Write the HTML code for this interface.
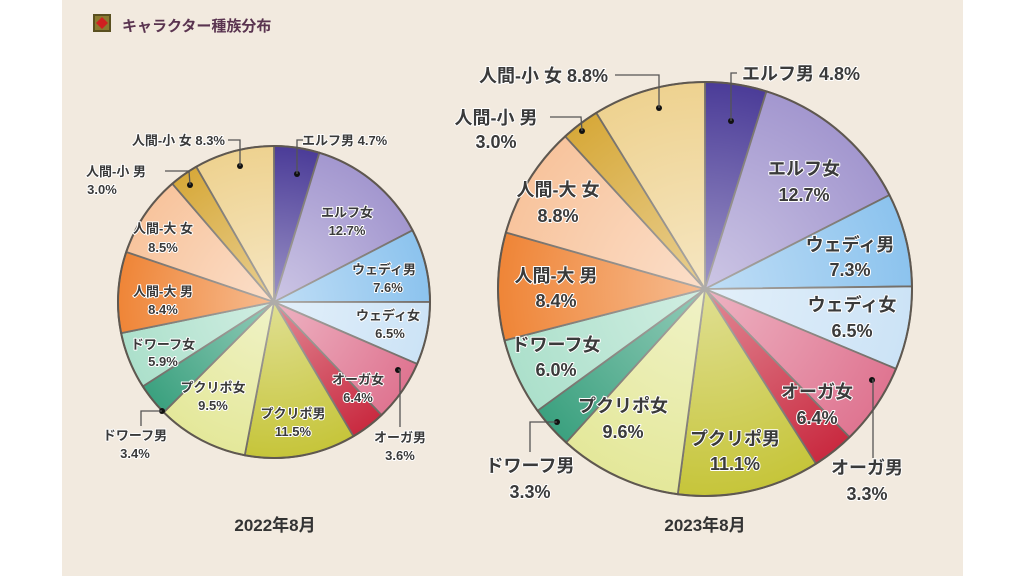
<!DOCTYPE html>
<html><head><meta charset="utf-8">
<style>
html,body{margin:0;padding:0;width:1024px;height:576px;overflow:hidden;background:#fff}
#bg{position:absolute;left:62px;top:0;width:901px;height:576px;background:#f2eadf}
svg{position:absolute;left:0;top:0}
text{font-family:"Liberation Sans","Noto Sans CJK JP",sans-serif;font-weight:bold;fill:#3a3a3a;paint-order:stroke;stroke:#fff;stroke-width:2px;stroke-linejoin:round}
.s{font-size:13px}
.b{font-size:18px}
.t{font-size:15px;fill:#5a3450;stroke:none}
.y{font-size:17px;fill:#333;stroke:none}
line,polyline{stroke:#555;stroke-width:1.3;fill:none}
</style></head><body>
<div id="bg"></div>
<svg id="s" width="1024" height="576" xmlns="http://www.w3.org/2000/svg">
<defs>
<radialGradient id="hl" cx="50%" cy="50%" r="50%">
<stop offset="0" stop-color="#fff" stop-opacity="0.45"/>
<stop offset="1" stop-color="#fff" stop-opacity="0"/>
</radialGradient>
</defs>
<rect x="93" y="14" width="18" height="18" fill="#5a5020"/>
<rect x="95" y="16" width="14" height="14" fill="#8a7a30"/>
<polygon points="102,17 108,23 102,29 96,23" fill="#d02020"/>
<text class="t" x="122" y="31">キャラクター種族分布</text>
<g id="p1"></g><g id="p2"></g>
<g class="s">
<text x="302" y="145">エルフ男 4.7%</text>
<text x="347" y="217" text-anchor="middle">エルフ女</text><text x="347" y="235" text-anchor="middle">12.7%</text>
<text x="384" y="274" text-anchor="middle">ウェディ男</text><text x="388" y="292" text-anchor="middle">7.6%</text>
<text x="388" y="320" text-anchor="middle">ウェディ女</text><text x="390" y="338" text-anchor="middle">6.5%</text>
<text x="358" y="384" text-anchor="middle">オーガ女</text><text x="358" y="402" text-anchor="middle">6.4%</text>
<text x="400" y="442" text-anchor="middle">オーガ男</text><text x="400" y="460" text-anchor="middle">3.6%</text>
<text x="293" y="418" text-anchor="middle">プクリポ男</text><text x="293" y="436" text-anchor="middle">11.5%</text>
<text x="213" y="392" text-anchor="middle">プクリポ女</text><text x="213" y="410" text-anchor="middle">9.5%</text>
<text x="135" y="440" text-anchor="middle">ドワーフ男</text><text x="135" y="458" text-anchor="middle">3.4%</text>
<text x="163" y="349" text-anchor="middle">ドワーフ女</text><text x="163" y="366" text-anchor="middle">5.9%</text>
<text x="163" y="296" text-anchor="middle">人間-大 男</text><text x="163" y="314" text-anchor="middle">8.4%</text>
<text x="163" y="233" text-anchor="middle">人間-大 女</text><text x="163" y="252" text-anchor="middle">8.5%</text>
<text x="116" y="176" text-anchor="middle">人間-小 男</text><text x="102" y="194" text-anchor="middle">3.0%</text>
<text x="225" y="145" text-anchor="end">人間-小 女 8.3%</text>
</g>
<polyline points="303,140 297,140 297,174"/>
<polyline points="398,370 400,370 400,427"/>
<polyline points="162,411 141,411 141,426"/>
<polyline points="165,171 189,171 190,185"/>
<polyline points="228,140 240,140 240,166"/>
<g class="b">
<text x="742" y="80">エルフ男 4.8%</text>
<text x="804" y="175" text-anchor="middle">エルフ女</text><text x="804" y="201" text-anchor="middle">12.7%</text>
<text x="850" y="251" text-anchor="middle">ウェディ男</text><text x="850" y="276" text-anchor="middle">7.3%</text>
<text x="852" y="311" text-anchor="middle">ウェディ女</text><text x="852" y="337" text-anchor="middle">6.5%</text>
<text x="817" y="398" text-anchor="middle">オーガ女</text><text x="817" y="424" text-anchor="middle">6.4%</text>
<text x="867" y="474" text-anchor="middle">オーガ男</text><text x="867" y="500" text-anchor="middle">3.3%</text>
<text x="735" y="445" text-anchor="middle">プクリポ男</text><text x="735" y="470" text-anchor="middle">11.1%</text>
<text x="623" y="412" text-anchor="middle">プクリポ女</text><text x="623" y="438" text-anchor="middle">9.6%</text>
<text x="530" y="472" text-anchor="middle">ドワーフ男</text><text x="530" y="498" text-anchor="middle">3.3%</text>
<text x="556" y="351" text-anchor="middle">ドワーフ女</text><text x="556" y="376" text-anchor="middle">6.0%</text>
<text x="556" y="282" text-anchor="middle">人間-大 男</text><text x="556" y="307" text-anchor="middle">8.4%</text>
<text x="558" y="196" text-anchor="middle">人間-大 女</text><text x="558" y="222" text-anchor="middle">8.8%</text>
<text x="496" y="124" text-anchor="middle">人間-小 男</text><text x="496" y="148" text-anchor="middle">3.0%</text>
<text x="608" y="82" text-anchor="end">人間-小 女 8.8%</text>
</g>
<polyline points="737,73 731,73 731,121"/>
<polyline points="872,380 873,380 873,458"/>
<polyline points="557,422 530,422 530,452"/>
<polyline points="550,117 581,117 582,131"/>
<polyline points="615,75 659,75 659,108"/>
<text class="y" x="275" y="531" text-anchor="middle">2022年8月</text>
<text class="y" x="705" y="531" text-anchor="middle">2023年8月</text>
</svg>
<script>
var cols=["#4b3c98","#a397cf","#8cc3ee","#cce3f6","#df7591","#c92a40","#c6c53a","#e4e89a","#3ba17f","#ace0cb","#ef8537","#f8c49d","#d7a93a","#eed290"];
function pie(id,cx,cy,r,v,dots){
 var g=document.getElementById(id),a=0,h="";
 for(var i=0;i<v.length;i++){
  var a2=a+v[i]/100*2*Math.PI;
  var x1=cx+r*Math.sin(a),y1=cy-r*Math.cos(a),x2=cx+r*Math.sin(a2),y2=cy-r*Math.cos(a2);
  h+='<path d="M'+cx+','+cy+'L'+x1+','+y1+'A'+r+','+r+' 0 '+((a2-a)>Math.PI?1:0)+' 1 '+x2+','+y2+'Z" fill="'+cols[i]+'" stroke="#6f6a64" stroke-width="1.8"/>';
  a=a2;
 }
 h+='<circle cx="'+cx+'" cy="'+cy+'" r="'+r+'" fill="url(#hl)"/>';
 h+='<circle cx="'+cx+'" cy="'+cy+'" r="'+r+'" fill="none" stroke="#5f5850" stroke-width="2"/>';
 for(var j=0;j<dots.length;j++)h+='<circle cx="'+dots[j][0]+'" cy="'+dots[j][1]+'" r="3" fill="#111"/>';
 g.innerHTML=h;
}
pie("p1",274,302,156,[4.7,12.7,7.6,6.5,6.4,3.6,11.5,9.5,3.4,5.9,8.4,8.5,3.0,8.3],[[297,174],[398,370],[162,411],[190,185],[240,166]]);
pie("p2",705,289,207,[4.8,12.7,7.3,6.5,6.4,3.3,11.1,9.6,3.3,6.0,8.4,8.8,3.0,8.8],[[731,121],[872,380],[557,422],[582,131],[659,108]]);
</script>
</body></html>
